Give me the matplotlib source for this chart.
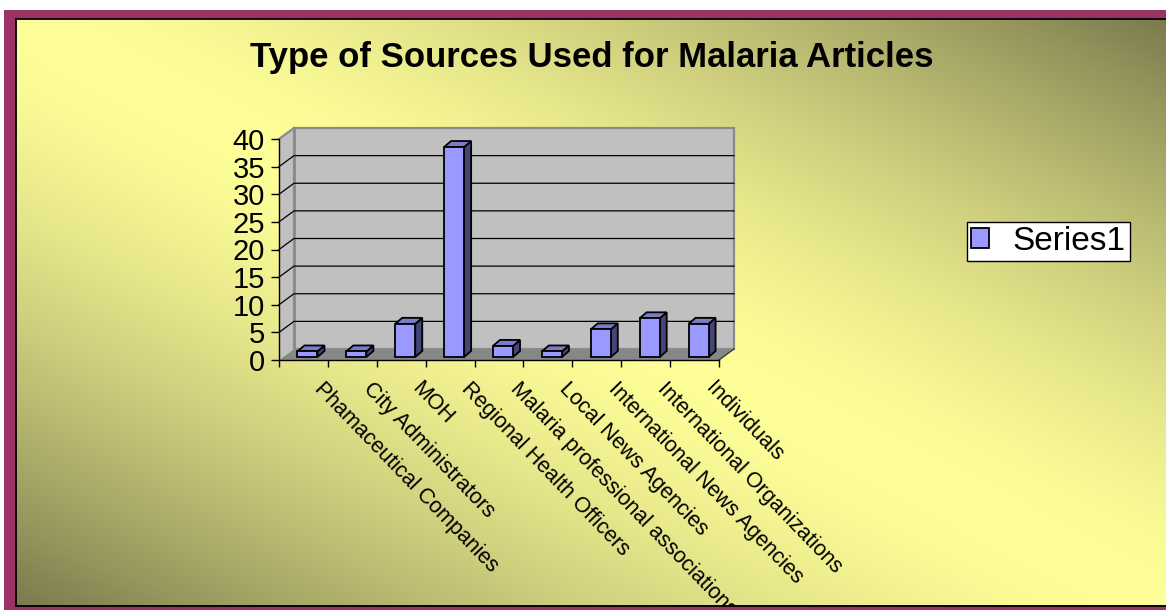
import numpy as np
import matplotlib
matplotlib.use("Agg")
import matplotlib.pyplot as plt
from matplotlib.patches import Rectangle, Polygon
import matplotlib.transforms as mtransforms

# ---------------- data ----------------
categories = [
    "Phamaceutical Companies",
    "City Administrators",
    "MOH",
    "Regional Health Officers",
    "Malaria professional associations",
    "Local News Agencies",
    "International News Agencies",
    "International Organizations",
    "Individuals",
]
values = [1, 1, 6, 38, 2, 1, 5, 7, 6]
y_ticks = [0, 5, 10, 15, 20, 25, 30, 35, 40]
series_name = "Series1"
title_text = "Type of Sources Used for Malaria Articles"

# ---------------- figure ----------------
W, H, DPI = 1166, 610, 100
plt.rcParams["font.family"] = ["Liberation Sans", "DejaVu Sans"]
fig = plt.figure(figsize=(W / DPI, H / DPI), dpi=DPI, facecolor="white")

# background (pixel coordinates)
bg = fig.add_axes([0, 0, 1, 1], zorder=-10)
bg.set_xlim(0, W)
bg.set_ylim(H, 0)
bg.axis("off")
bg.add_patch(Rectangle((4, 10), W, H, facecolor="#993366", edgecolor="none", zorder=1))
gx0, gx1, gy0, gy1 = 16, W, 19, 605
X, Y = np.meshgrid(np.linspace(0, 1, 600), np.linspace(0, 1, 300))
s = np.abs(X - Y)
light = np.array([255, 255, 153]) / 255.0
dark = np.array([122, 122, 78]) / 255.0
img = light + (dark - light) * (s[..., None] ** 1.5)
bg.imshow(img, extent=(gx0, gx1, gy1, gy0), aspect="auto",
          interpolation="bilinear", zorder=2)
bg.plot([15.5, 15.5], [18.5, 605.5], color="black", lw=1.3, zorder=3)
bg.plot([15.5, W], [18.5, 18.5], color="black", lw=1.3, zorder=3)
bg.set_xlim(0, W)
bg.set_ylim(H, 0)

# main axes = front plane of the 3-D chart
ax = fig.add_axes([279 / W, (H - 360) / H, 440 / W, 221 / H])
ax.set_xlim(-0.5, len(categories) - 0.5)
ax.set_ylim(y_ticks[0], y_ticks[-1])
ax.patch.set_visible(False)
for sp in ("top", "right"):
    ax.spines[sp].set_visible(False)
for sp in ("left", "bottom"):
    ax.spines[sp].set_color("black")
    ax.spines[sp].set_linewidth(1.0)
    ax.spines[sp].set_zorder(5)


def px2data(dxp, dyp):
    p0 = ax.transData.transform((0.0, 0.0))
    d = ax.transData.inverted().transform(p0 + np.array([dxp, dyp]))
    return d[0], d[1]


DX, DY = px2data(15, 11)      # wall depth
BX, BY = px2data(4, 3)        # bar placement inside depth
DBX, DBY = px2data(7, 6)      # bar depth

xl0, xl1 = ax.get_xlim()
ymax = y_ticks[-1]

# floor
ax.add_patch(Polygon([(xl0, 0), (xl1, 0), (xl1 + DX, DY), (xl0 + DX, DY)],
                     closed=True, facecolor="#878787", edgecolor="none",
                     zorder=0.5, clip_on=False))
ax.plot([xl1, xl1 + DX], [0, DY], color="#333333", lw=0.9, zorder=0.6, clip_on=False)
# left side wall
ax.add_patch(Polygon([(xl0, 0), (xl0, ymax), (xl0 + DX, ymax + DY), (xl0 + DX, DY)],
                     closed=True, facecolor="#c0c0c0", edgecolor="none",
                     zorder=0.5, clip_on=False))
# back wall
ax.add_patch(Rectangle((xl0 + DX, DY), xl1 - xl0, ymax, facecolor="#c0c0c0",
                       edgecolor="#8a8a8a", lw=1.6, zorder=0.5, clip_on=False))
ax.plot([xl0, xl0 + DX], [ymax, ymax + DY], color="#8a8a8a", lw=1.6, zorder=0.55, clip_on=False)
ax.plot([xl0 + DX, xl0 + DX], [DY, ymax + DY], color="#8a8a8a", lw=2.0, zorder=0.55, clip_on=False)
# gridlines
for v in y_ticks[1:-1]:
    ax.plot([xl0, xl0 + DX, xl1 + DX], [v, v + DY, v + DY], color="black",
            lw=0.9, zorder=0.6, clip_on=False)

# bars
xs = np.arange(len(categories))
bw = 0.41
bars = ax.bar(xs + BX, values, width=bw, bottom=BY, color="#9999ff",
              edgecolor="black", linewidth=1.3, zorder=3, label=series_name,
              clip_on=False)
for xc, v in zip(xs + BX, values):
    x0, x1 = xc - bw / 2, xc + bw / 2
    top = BY + v
    ax.add_patch(Polygon([(x1, BY), (x1, top), (x1 + DBX, top + DBY), (x1 + DBX, BY + DBY)],
                         closed=True, facecolor="#45457a", edgecolor="black",
                         lw=1.3, zorder=2.9, clip_on=False))
    ax.add_patch(Polygon([(x0, top), (x1, top), (x1 + DBX, top + DBY), (x0 + DBX, top + DBY)],
                         closed=True, facecolor="#7b7bc8", edgecolor="black",
                         lw=1.3, zorder=2.9, clip_on=False))

# ticks
ax.set_yticks(y_ticks)
ax.tick_params(axis="y", length=6, width=1, pad=4, labelsize=21, colors="black")
ax.set_xticks([])
ax.set_xticks(np.arange(len(categories) + 1) - 0.5, minor=True)
ax.tick_params(axis="x", which="minor", length=5, width=1, color="black")
ax.xaxis.set_minor_formatter(matplotlib.ticker.NullFormatter())

# category labels
lab_tr = mtransforms.offset_copy(ax.get_xaxis_transform(), fig=fig, x=22, y=-18, units="dots")
for i, lab in enumerate(categories):
    ax.text(i, 0, lab, transform=lab_tr, rotation=-46, rotation_mode="anchor",
            ha="left", va="top", fontsize=15.5, color="black", clip_on=False)

# title
fig.text(592 / W, 1 - 57 / H, title_text, ha="center", va="center",
         fontsize=25, fontweight="bold", color="black")

# legend
leg = ax.legend(handles=[bars], labels=[series_name], loc="upper left",
                bbox_to_anchor=(967 / W, 1 - 222 / H), bbox_transform=fig.transFigure,
                fontsize=24, frameon=True, fancybox=False, shadow=False,
                handlelength=0.55, handleheight=0.55, handletextpad=0.7,
                borderpad=0.12, borderaxespad=0)
leg.get_frame().set_edgecolor("black")
leg.get_frame().set_linewidth(1.0)
leg.get_frame().set_facecolor("white")
leg.get_frame().set_alpha(1)

# bottom frame drawn over clipped labels
ov = fig.add_axes([0, 0, 1, 1], zorder=20)
ov.set_xlim(0, W)
ov.set_ylim(H, 0)
ov.axis("off")
ov.patch.set_visible(False)
ov.add_patch(Rectangle((4, 605.5), W, 10, facecolor="#993366", edgecolor="none"))
ov.plot([15.5, W], [605.5, 605.5], color="black", lw=1.3)

fig.savefig("out.png", dpi=DPI, facecolor="white")
